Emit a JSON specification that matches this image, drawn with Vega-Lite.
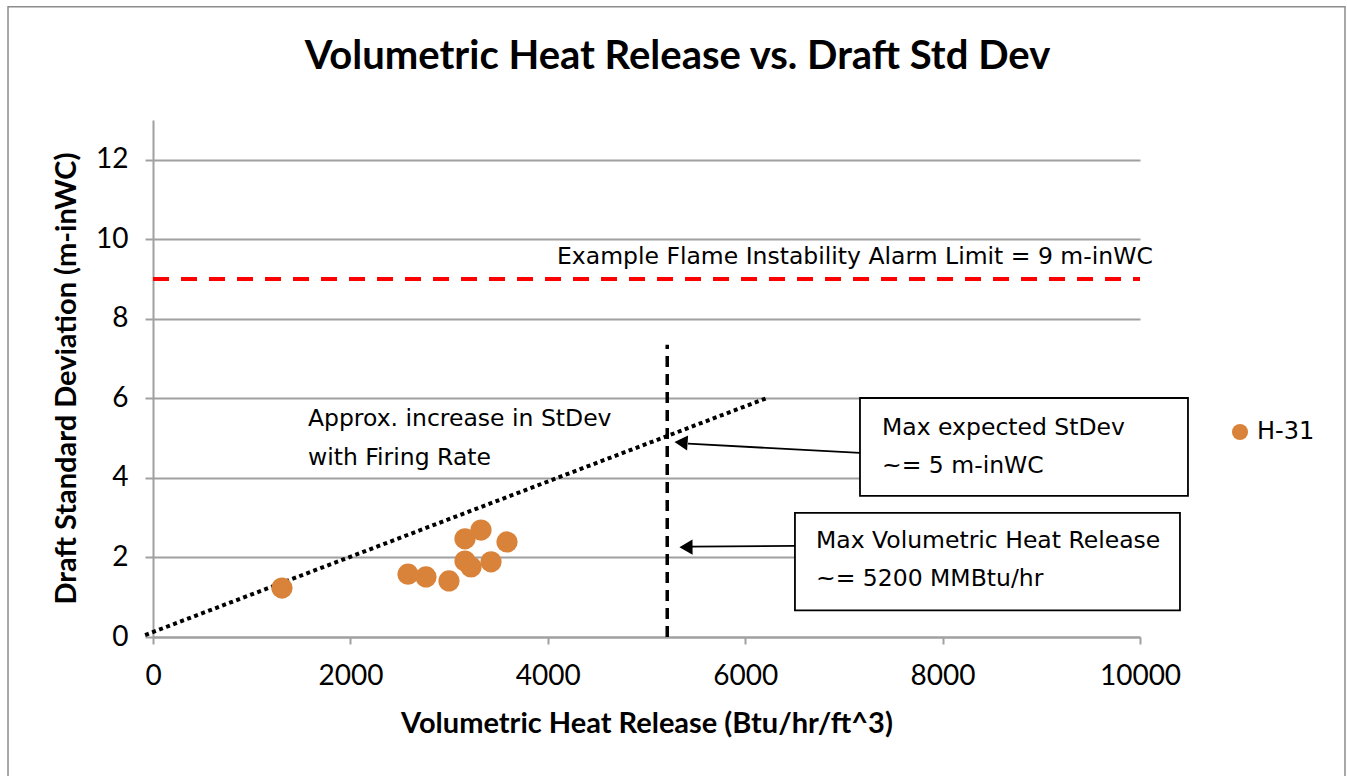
{
  "$schema": "https://vega.github.io/schema/vega-lite/v6.json",
  "autosize": "none",
  "width": 987,
  "height": 517,
  "padding": {"left": 153, "top": 120, "right": 207, "bottom": 139},
  "background": "white",
  "title": {
    "text": "Volumetric Heat Release vs. Draft Std Dev",
    "font": "Lato",
    "fontSize": 40,
    "fontWeight": "bold",
    "color": "black",
    "anchor": "middle",
    "frame": "group",
    "baseline": "alphabetic",
    "offset": -103,
    "dx": 31
  },
  "config": {"view": {"stroke": null}, "font": "Lato"},
  "datasets": {
    "frame": [{"x": -1469, "x2": 12077, "y": 15.85, "y2": -3.8}],
    "alarm": [{"x": 0, "x2": 10000, "y": 9}],
    "trend": [{"x": -80, "y": 0.05}, {"x": 6210, "y": 6.0}],
    "maxline": [{"x": 5210, "y": 0, "y2": 7.35}],
    "boxes": [
      {"x": 7163, "x2": 10486, "y": 6.01, "y2": 3.55},
      {"x": 6504, "x2": 10405, "y": 3.12, "y2": 0.67}
    ],
    "arrows": [
      {"x": 7163, "y": 4.63, "x2": 5420, "y2": 4.86},
      {"x": 6504, "y": 2.29, "x2": 5450, "y2": 2.27}
    ],
    "head1": [{"x": 5350, "y": 4.89}],
    "head2": [{"x": 5400, "y": 2.26}],
    "points": [
      {"x": 1307, "y": 1.23, "series": "H-31"},
      {"x": 2584, "y": 1.58, "series": "H-31"},
      {"x": 2766, "y": 1.51, "series": "H-31"},
      {"x": 2999, "y": 1.41, "series": "H-31"},
      {"x": 3161, "y": 2.47, "series": "H-31"},
      {"x": 3323, "y": 2.69, "series": "H-31"},
      {"x": 3587, "y": 2.39, "series": "H-31"},
      {"x": 3161, "y": 1.91, "series": "H-31"},
      {"x": 3222, "y": 1.76, "series": "H-31"},
      {"x": 3425, "y": 1.89, "series": "H-31"}
    ],
    "labels": [
      {"x": 4093, "y": 9.38, "text": "Example Flame Instability Alarm Limit = 9 m-inWC"},
      {"x": 1570, "y": 5.3, "text": "Approx. increase in StDev"},
      {"x": 1570, "y": 4.32, "text": "with Firing Rate"},
      {"x": 7386, "y": 5.08, "text": "Max expected StDev"},
      {"x": 7386, "y": 4.13, "text": "~= 5 m-inWC"},
      {"x": 6717, "y": 2.24, "text": "Max Volumetric Heat Release"},
      {"x": 6717, "y": 1.28, "text": "~= 5200 MMBtu/hr"}
    ]
  },
  "encoding": {
    "x": {
      "field": "x",
      "type": "quantitative",
      "scale": {"domain": [0, 10000], "nice": false, "zero": false},
      "axis": {
        "values": [0, 2000, 4000, 6000, 8000, 10000],
        "grid": false,
        "domainColor": "#a0a0a0",
        "domainWidth": 2,
        "tickColor": "#a0a0a0",
        "tickWidth": 2,
        "tickSize": 7,
        "labelFont": "Lato",
        "labelFontSize": 28,
        "labelColor": "black",
        "labelPadding": 18,
        "labelFlush": false,
        "labelOverlap": false,
        "format": "d",
        "title": "Volumetric Heat Release (Btu/hr/ft^3)",
        "titleFont": "Lato",
        "titleFontSize": 29,
        "titleFontWeight": "bold",
        "titleColor": "black",
        "titleBaseline": "alphabetic",
        "titleY": 95
      }
    },
    "y": {
      "field": "y",
      "type": "quantitative",
      "scale": {"domain": [0, 13], "nice": false, "zero": false},
      "axis": {
        "values": [0, 2, 4, 6, 8, 10, 12],
        "grid": true,
        "gridColor": "#a0a0a0",
        "gridWidth": 2,
        "domainColor": "#a0a0a0",
        "domainWidth": 2,
        "tickColor": "#a0a0a0",
        "tickWidth": 2,
        "tickSize": 8,
        "labelFont": "Lato",
        "labelFontSize": 28,
        "labelColor": "black",
        "labelPadding": 17,
        "labelFlush": false,
        "labelOverlap": false,
        "title": "Draft Standard Deviation (m-inWC)",
        "titleFont": "Lato",
        "titleFontSize": 29,
        "titleFontWeight": "bold",
        "titleColor": "black",
        "titleX": -72,
        "titleY": 258
      }
    }
  },
  "layer": [
    {
      "data": {"name": "frame"},
      "mark": {"type": "rect", "fill": null, "stroke": "#8c8c8c", "strokeWidth": 1.5, "clip": false},
      "encoding": {"x2": {"field": "x2"}, "y2": {"field": "y2"}}
    },
    {
      "data": {"name": "alarm"},
      "mark": {"type": "rule", "color": "#ff0000", "strokeWidth": 4, "strokeDash": [16, 12]},
      "encoding": {"x2": {"field": "x2"}}
    },
    {
      "data": {"name": "trend"},
      "mark": {"type": "line", "color": "black", "strokeWidth": 4, "strokeDash": [4, 3.5], "strokeCap": "butt"}
    },
    {
      "data": {"name": "maxline"},
      "mark": {"type": "rule", "color": "black", "strokeWidth": 3.5, "strokeDash": [11, 7]},
      "encoding": {"y2": {"field": "y2"}}
    },
    {
      "data": {"name": "boxes"},
      "mark": {"type": "rect", "fill": "white", "stroke": "black", "strokeWidth": 1.8},
      "encoding": {"x2": {"field": "x2"}, "y2": {"field": "y2"}}
    },
    {
      "data": {"name": "arrows"},
      "mark": {"type": "rule", "color": "black", "strokeWidth": 1.8},
      "encoding": {"x2": {"field": "x2"}, "y2": {"field": "y2"}}
    },
    {
      "data": {"name": "head1"},
      "mark": {"type": "point", "shape": "triangle-left", "filled": true, "color": "black", "opacity": 1, "size": 230, "angle": 3.7}
    },
    {
      "data": {"name": "head2"},
      "mark": {"type": "point", "shape": "triangle-left", "filled": true, "color": "black", "opacity": 1, "size": 230, "angle": -0.5}
    },
    {
      "data": {"name": "points"},
      "mark": {"type": "circle", "size": 450, "opacity": 1},
      "encoding": {
        "color": {
          "field": "series",
          "type": "nominal",
          "scale": {"range": ["#d9833a"]},
          "legend": {
            "title": null,
            "orient": "none",
            "legendX": 1075,
            "legendY": 300,
            "symbolType": "circle",
            "symbolSize": 260,
            "labelFont": "DejaVu Sans",
            "labelFontSize": 24,
            "labelColor": "black",
            "labelOffset": 5
          }
        }
      }
    },
    {
      "data": {"name": "labels"},
      "mark": {"type": "text", "align": "left", "baseline": "alphabetic", "font": "DejaVu Sans", "fontSize": 23.5, "color": "black"},
      "encoding": {"text": {"field": "text"}}
    }
  ]
}
